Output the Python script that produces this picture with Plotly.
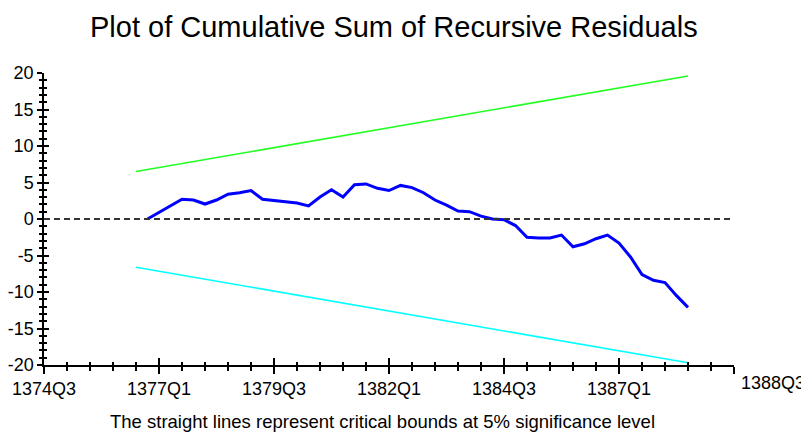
import plotly.graph_objects as go

# ---- data (quarter index: 0 = 1374Q3) ----
tick_positions = [0, 10, 20, 30, 40, 50, 60]
tick_labels = ["1374Q3", "1377Q1", "1379Q3", "1382Q1", "1384Q3", "1387Q1", ""]
last_period_label = "1388Q3"

y_tick_values = [-20, -15, -10, -5, 0, 5, 10, 15, 20]
y_tick_labels = ["-20", "-15", "-10", "-5", "0", "5", "10", "15", "20"]

cusum_x = list(range(9, 57))
cusum_values = [0.0, 0.9, 1.9, 2.7, 2.6, 2.05, 2.6, 3.4, 3.6, 3.9,
                2.7, 2.5, 2.3, 2.2, 1.8, 3.0, 4.0, 3.0, 4.7, 4.8,
                4.2, 3.9, 4.6, 4.3, 3.6, 2.6, 1.9, 1.1, 1.0, 0.4,
                0.0, -0.1, -0.9, -2.5, -2.6, -2.6, -2.2, -3.8, -3.4, -2.7,
                -2.2, -3.3, -5.2, -7.6, -8.4, -8.7, -10.5, -12.1]

bound_x = [8, 56]
upper_bound = [6.5, 19.6]
lower_bound = [-6.6, -19.7]

AX_FONT = dict(family="Liberation Sans, Arial, sans-serif", size=18, color="black")

fig = go.Figure()
fig.add_trace(go.Scatter(x=bound_x, y=upper_bound, mode="lines",
                         line=dict(color="#22ff22", width=1.6),
                         xaxis="x2", yaxis="y2", hoverinfo="skip", showlegend=False))
fig.add_trace(go.Scatter(x=bound_x, y=lower_bound, mode="lines",
                         line=dict(color="#00ffff", width=1.6),
                         hoverinfo="skip", showlegend=False))
fig.add_trace(go.Scatter(x=cusum_x, y=cusum_values, mode="lines",
                         line=dict(color="#0000ff", width=3),
                         showlegend=False))

fig.add_hline(y=0, line=dict(color="#333333", width=2, dash="6px,4px"))

common_x = dict(range=[0, 60], showgrid=False, zeroline=False, automargin=False,
                showline=True, linecolor="black", linewidth=1.5,
                tickvals=tick_positions, tickcolor="black", tickwidth=1.5, ticklen=7)
common_y = dict(range=[-20, 20], showgrid=False, zeroline=False, automargin=False,
                showline=True, linecolor="black", linewidth=1.5,
                tickvals=y_tick_values, tickcolor="black", tickwidth=1.5, ticklen=5)

# the page body adds an 8px margin, so the figure is sized 801x424
fig.update_layout(
    width=801, height=424,
    paper_bgcolor="white", plot_bgcolor="white",
    margin=dict(l=36, r=75, t=65, b=67),
    xaxis=dict(**common_x, ticks="outside", ticktext=tick_labels, tickfont=AX_FONT,
               minor=dict(dtick=2, tick0=0, ticklen=4, tickcolor="black",
                          tickwidth=1.5, ticks="outside")),
    yaxis=dict(**common_y, ticks="outside", ticktext=y_tick_labels, tickfont=AX_FONT,
               minor=dict(dtick=1, tick0=0, ticklen=3.5, tickcolor="black",
                          tickwidth=1.5, ticks="outside")),
    xaxis2=dict(**common_x, ticks="inside", showticklabels=False,
                overlaying="x", matches="x", anchor="y2",
                minor=dict(dtick=2, tick0=0, ticklen=3, tickcolor="black",
                           tickwidth=1.5, ticks="inside")),
    yaxis2=dict(**common_y, ticks="inside", showticklabels=False,
                overlaying="y", matches="y", anchor="x2",
                minor=dict(dtick=1, tick0=0, ticklen=3.5, tickcolor="black",
                           tickwidth=1.5, ticks="inside")),
)

fig.add_annotation(text="Plot of Cumulative Sum of Recursive Residuals",
                   xref="paper", yref="paper", x=0.507, y=1, yshift=46,
                   yanchor="middle", xanchor="center", showarrow=False,
                   font=dict(family="Liberation Sans, Arial, sans-serif", size=29, color="black"))
fig.add_annotation(text=last_period_label, xref="x", yref="paper", x=60, y=0,
                   xanchor="left", yanchor="top", xshift=5, yshift=-6, showarrow=False,
                   font=AX_FONT)
fig.add_annotation(text="The straight lines represent critical bounds at 5% significance level",
                   xref="paper", yref="paper", x=0.49, y=0, yshift=-56,
                   xanchor="center", yanchor="middle", showarrow=False,
                   font=dict(family="Liberation Sans, Arial, sans-serif", size=18.5, color="black"))

fig.write_html("out.html")
